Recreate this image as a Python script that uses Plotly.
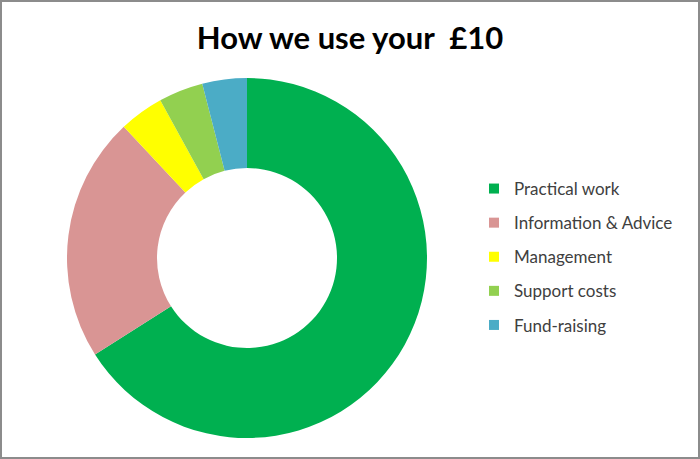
import plotly.graph_objects as go

labels = ["Practical work", "Information & Advice", "Management", "Support costs", "Fund-raising"]
values = [6.6, 2.2, 0.4, 0.4, 0.4]
colors = ["#00B050", "#D99594", "#FFFF00", "#92D050", "#4BACC6"]

W, H = 700, 459

fig = go.Figure()

fig.add_trace(go.Pie(
    labels=labels,
    values=values,
    hole=0.5,
    sort=False,
    direction="clockwise",
    marker=dict(colors=colors, line=dict(width=0)),
    textinfo="none",
    showlegend=False,
    domain=dict(x=[67 / W, 427 / W], y=[21 / H, 381 / H]),
))

# legend entries drawn as dummy traces so the row spacing can be opened up
for i, (lab, col) in enumerate(zip(labels, colors)):
    fig.add_trace(go.Scatter(
        x=[None], y=[None], mode="markers", name=lab,
        marker=dict(symbol="square", size=10, color=col),
        legendgroup=f"g{i}",
    ))

fig.update_layout(
    width=W, height=H,
    margin=dict(l=0, r=0, t=0, b=0),
    paper_bgcolor="white",
    plot_bgcolor="white",
    xaxis=dict(visible=False),
    yaxis=dict(visible=False),
    title=dict(
        text="<b>How we use your  £10</b>",
        x=0.5, xanchor="center", y=1 - 38 / H, yanchor="middle",
        font=dict(family="Lato", size=31, color="black"),
    ),
    legend=dict(
        x=474 / W, xanchor="left", y=1 - 257 / H, yanchor="middle",
        font=dict(family="Lato", size=17, color="#404040"),
        tracegroupgap=9,
        bgcolor="rgba(0,0,0,0)",
    ),
    shapes=[dict(
        type="rect", xref="paper", yref="paper",
        x0=1 / W, y0=1 / H, x1=1 - 1 / W, y1=1 - 1 / H,
        line=dict(color="#8c8c8c", width=2), layer="above",
    )],
)

# page body has a default 8px margin; drop it so the figure sits at 0,0
fig.write_html("out.html", config={"displayModeBar": False},
               post_script="document.body.style.margin='0';")
